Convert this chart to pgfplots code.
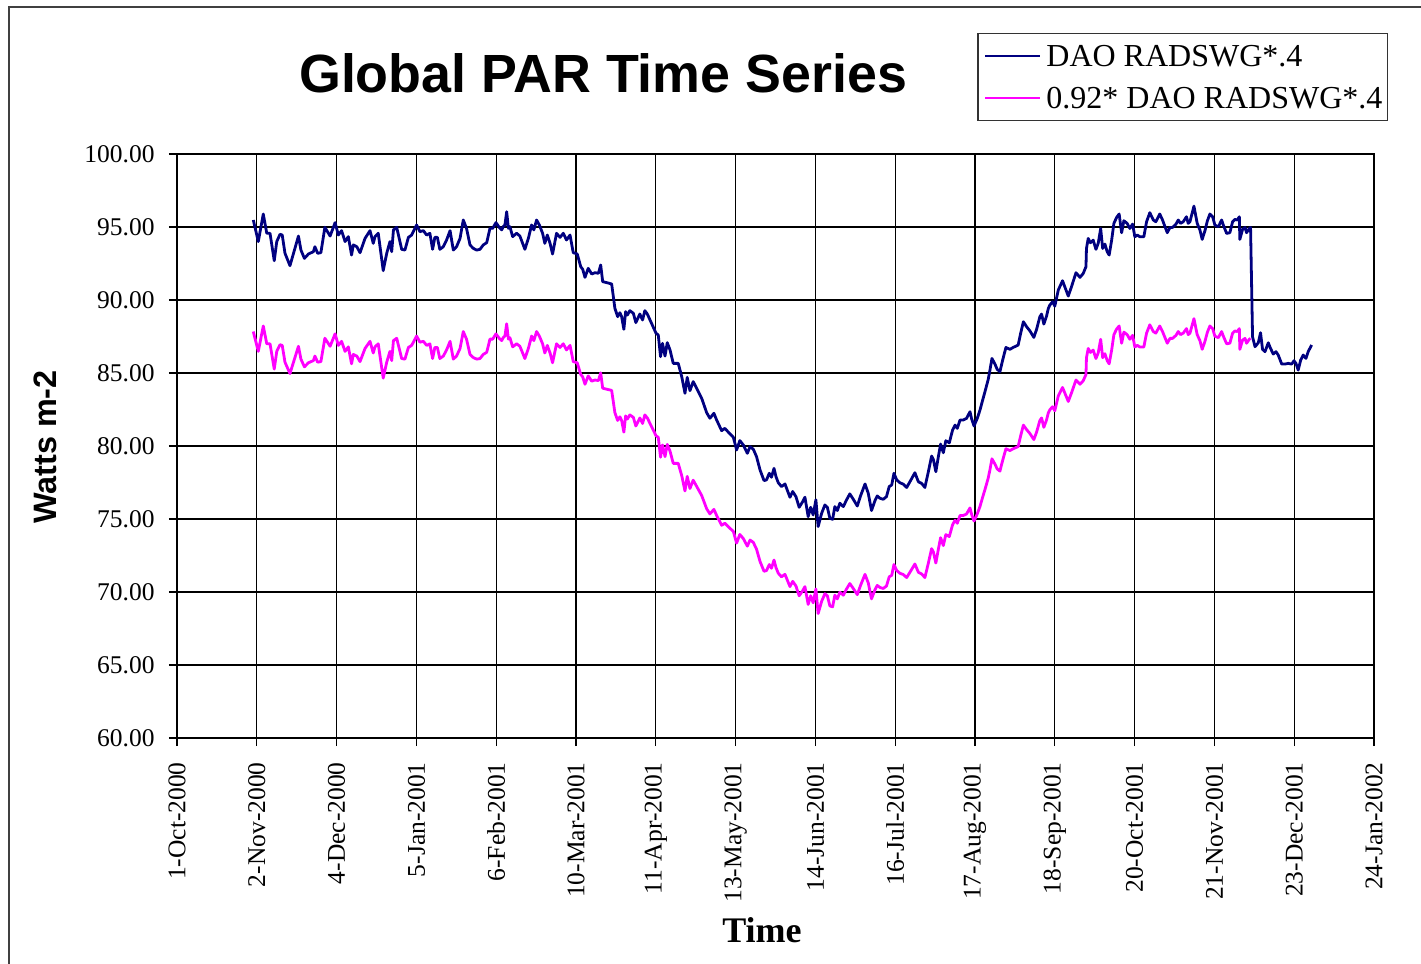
\documentclass[border=0pt]{standalone}
\usepackage{fontspec}
\setmainfont{Liberation Serif}
\newfontfamily\arialfont{Liberation Sans}
\usepackage{pgfplots}
\usepackage{pgfplotstable}
\pgfplotsset{compat=1.18}
\definecolor{daoblue}{RGB}{0,0,128}
\definecolor{daopink}{RGB}{255,0,255}

% day 0 = 1-Oct-2000; b = DAO RADSWG*.4 ; p = 0.92* DAO RADSWG*.4
\pgfplotstableread{
d b p
30.6 95.48 87.84
32.6 94.00 86.48
34.6 95.89 88.22
36.0 94.57 87.00
37.3 94.57 87.00
39.0 92.69 85.27
40.0 94.00 86.48
41.3 94.50 86.94
42.2 94.45 86.89
43.3 93.20 85.74
45.3 92.35 84.96
47.1 93.42 85.95
48.7 94.38 86.83
49.7 93.42 85.95
51.1 92.85 85.42
52.7 93.15 85.70
54.7 93.31 85.85
55.3 93.65 86.16
56.4 93.20 85.74
57.7 93.24 85.78
59.3 94.98 87.38
61.4 94.38 86.83
63.4 95.30 87.68
64.7 94.45 86.89
66.0 94.75 87.17
67.4 94.00 86.48
68.7 94.34 86.79
70.0 93.08 85.63
70.7 93.77 86.27
72.1 93.65 86.16
73.4 93.24 85.78
75.4 94.22 86.68
77.4 94.75 87.17
78.7 93.88 86.37
79.4 94.34 86.79
80.7 94.57 87.00
82.7 92.01 84.65
84.1 93.20 85.74
85.4 94.00 86.48
86.1 93.31 85.85
86.8 94.80 87.22
88.1 94.98 87.38
90.1 93.47 85.99
91.4 93.42 85.95
92.8 94.29 86.75
94.1 94.45 86.89
96.1 95.14 87.53
97.4 94.68 87.11
98.8 94.75 87.17
100.1 94.45 86.89
101.4 94.57 87.00
102.5 93.47 85.99
103.4 94.29 86.75
104.4 94.29 86.75
105.4 93.47 85.99
106.8 93.65 86.16
108.1 94.11 86.58
109.5 94.75 87.17
110.8 93.42 85.95
112.1 93.65 86.16
113.5 94.22 86.68
114.8 95.48 87.84
116.1 94.91 87.32
117.5 93.77 86.27
118.8 93.54 86.06
120.2 93.42 85.95
121.5 93.47 85.99
122.8 93.77 86.27
124.2 93.93 86.42
125.5 94.91 87.32
126.6 94.91 87.32
127.9 95.30 87.68
129.2 94.98 87.38
130.2 94.80 87.22
130.8 95.02 87.42
131.5 95.14 87.53
132.2 96.05 88.37
132.9 94.91 87.32
133.5 95.02 87.42
134.6 94.34 86.79
136.2 94.57 87.00
137.5 94.38 86.83
139.5 93.47 85.99
140.9 94.22 86.68
142.2 95.14 87.53
143.1 94.80 87.22
144.2 95.48 87.84
145.3 95.14 87.53
146.6 94.57 87.00
147.5 93.88 86.37
148.5 94.45 86.89
149.6 93.88 86.37
150.6 93.15 85.70
152.2 94.57 87.00
153.6 94.29 86.75
154.9 94.57 87.00
156.2 94.11 86.58
157.6 94.45 86.89
158.9 93.24 85.78
160.5 93.15 85.70
161.9 92.28 84.90
162.7 92.10 84.73
163.6 91.55 84.23
164.9 92.17 84.80
166.3 91.78 84.44
167.6 91.87 84.52
169.0 91.83 84.48
169.9 92.40 85.01
170.7 91.26 83.96
172.3 91.19 83.89
174.3 91.10 83.81
175.6 89.43 82.28
176.7 88.86 81.75
177.6 89.13 82.00
178.3 88.86 81.75
179.2 87.99 80.95
179.9 89.20 82.06
180.6 88.97 81.85
181.6 89.27 82.13
183.0 89.09 81.96
184.0 88.45 81.37
185.6 89.04 81.92
186.7 88.63 81.54
187.6 89.27 82.13
188.6 89.04 81.92
190.3 88.40 81.33
192.1 87.72 80.70
193.0 87.60 80.59
193.9 86.12 79.23
194.7 87.03 80.07
195.7 86.16 79.27
196.6 87.08 80.11
197.7 86.58 79.65
199.0 85.66 78.81
201.0 85.66 78.81
202.4 84.75 77.97
203.7 83.61 76.92
204.6 84.70 77.92
205.7 83.79 77.09
207.0 84.41 77.66
208.4 83.95 77.23
210.4 83.27 76.61
212.4 82.28 75.70
213.7 81.90 75.35
215.3 82.24 75.66
216.4 81.78 75.24
218.4 81.05 74.57
219.7 81.21 74.71
221.5 80.87 74.40
223.1 80.60 74.15
224.4 79.73 73.35
225.7 80.37 73.94
227.1 80.07 73.66
228.7 79.50 73.14
229.8 79.96 73.56
231.1 79.78 73.40
232.4 79.27 72.93
233.8 78.36 72.09
235.4 77.63 71.42
236.4 77.68 71.47
237.5 78.13 71.88
238.4 77.86 71.63
239.4 78.47 72.19
240.2 77.90 71.67
241.1 77.49 71.29
242.4 77.22 71.04
243.8 77.40 71.21
244.7 76.99 70.83
245.8 76.49 70.37
246.9 76.88 70.73
248.2 76.53 70.41
249.5 75.80 69.74
250.9 76.19 70.09
251.8 76.49 70.37
253.1 75.16 69.15
254.1 75.80 69.74
255.1 75.28 69.26
256.2 76.31 70.21
257.1 74.48 68.52
258.5 75.39 69.36
259.8 75.96 69.88
260.8 75.80 69.74
261.8 75.05 69.05
262.9 74.98 68.98
263.8 75.85 69.78
264.8 75.58 69.53
265.8 76.08 69.99
267.2 75.85 69.78
268.5 76.31 70.21
269.8 76.72 70.58
271.2 76.35 70.24
272.8 75.89 69.82
274.1 76.58 70.45
275.9 77.40 71.21
277.2 76.76 70.62
278.5 75.58 69.53
279.9 76.26 70.16
280.8 76.58 70.45
281.9 76.42 70.31
283.2 76.35 70.24
284.5 76.53 70.41
285.6 77.22 71.04
286.6 77.33 71.14
287.5 78.13 71.88
288.6 77.68 71.47
289.9 77.48 71.28
291.2 77.39 71.20
292.6 77.16 70.99
293.9 77.55 71.35
295.9 78.17 71.92
297.3 77.55 71.35
298.6 77.44 71.24
299.9 77.16 70.99
301.3 78.24 71.98
302.6 79.31 72.97
303.3 79.08 72.75
304.3 78.24 71.98
305.3 79.26 72.92
306.2 80.13 73.72
307.3 79.54 73.18
308.3 80.36 73.93
309.7 80.22 73.80
311.0 81.09 74.60
312.0 81.43 74.92
312.9 81.21 74.71
314.0 81.78 75.24
315.3 81.78 75.24
316.6 81.89 75.34
318.0 82.35 75.76
318.6 81.89 75.34
319.6 81.37 74.86
320.9 81.89 75.34
322.0 82.46 75.86
323.0 83.10 76.45
324.0 83.72 77.02
325.3 84.56 77.80
326.0 85.20 78.38
326.8 86.00 79.12
328.0 85.61 78.76
328.9 85.25 78.43
330.0 85.09 78.28
331.1 85.89 79.02
332.4 86.75 79.81
334.0 86.62 79.69
335.3 86.75 79.81
337.3 86.91 79.96
338.3 87.71 80.69
339.4 88.51 81.43
340.7 88.17 81.12
342.0 87.89 80.86
343.6 87.44 80.44
344.7 87.99 80.95
346.0 88.85 81.74
346.7 89.04 81.92
347.6 88.35 81.28
348.7 88.90 81.79
349.4 89.42 82.27
350.0 89.65 82.48
351.1 89.88 82.69
352.0 89.58 82.41
353.4 90.68 83.43
355.1 91.32 84.01
356.5 90.68 83.43
357.4 90.27 83.05
358.7 90.91 83.64
360.5 91.87 84.52
362.1 91.55 84.23
363.4 91.82 84.47
364.5 92.28 84.90
364.7 93.53 86.05
365.4 94.22 86.68
366.3 93.92 86.41
367.4 94.10 86.57
368.5 93.47 85.99
369.4 93.88 86.37
370.4 94.90 87.31
371.2 93.53 86.05
372.1 93.83 86.32
373.0 93.31 85.85
373.8 93.08 85.63
374.8 94.10 86.57
375.7 95.25 87.63
376.8 95.66 88.01
377.8 95.89 88.22
378.8 94.61 87.04
379.7 95.43 87.80
381.0 95.25 87.63
382.1 94.90 87.31
383.2 95.20 87.58
384.1 94.33 86.78
385.1 94.45 86.89
386.1 94.33 86.78
387.7 94.33 86.78
388.8 95.36 87.73
390.1 95.98 88.30
391.5 95.48 87.84
392.5 95.36 87.73
394.1 95.89 88.22
395.2 95.48 87.84
396.1 95.06 87.46
397.1 94.61 87.04
398.2 94.97 87.37
399.2 94.97 87.37
400.6 95.20 87.58
401.5 95.48 87.84
402.4 95.25 87.63
403.5 95.36 87.73
404.8 95.70 88.04
405.5 95.25 87.63
406.2 95.36 87.73
407.8 96.43 88.72
409.1 95.25 87.63
410.2 94.79 87.21
411.1 94.15 86.62
412.2 94.74 87.16
413.2 95.43 87.80
414.2 95.89 88.22
415.3 95.70 88.04
416.2 95.13 87.52
417.6 95.02 87.42
418.9 95.48 87.84
419.6 95.13 87.52
420.9 94.56 87.00
422.2 94.61 87.04
423.3 95.36 87.73
424.2 95.52 87.88
425.2 95.48 87.84
426.0 95.70 88.04
426.2 94.15 86.62
427.3 94.84 87.25
428.3 94.97 87.37
428.9 94.61 87.04
430.0 94.90 87.31
430.5 94.97 87.37
431.3 87.48 nan
432.3 86.80 nan
433.6 87.07 nan
434.5 87.76 nan
435.3 86.62 nan
436.3 86.46 nan
437.6 87.07 nan
438.5 86.69 nan
439.6 86.30 nan
440.7 86.46 nan
441.6 86.23 nan
443.0 85.61 nan
444.3 85.61 nan
445.6 85.66 nan
447.0 85.61 nan
447.9 85.84 nan
448.7 85.66 nan
449.6 85.20 nan
450.6 85.89 nan
451.6 86.23 nan
452.7 86.00 nan
453.6 86.46 nan
455.0 86.92 nan
}\partable

\begin{document}
\begin{tikzpicture}
% picture frame: 1421 x 964 px at 0.5pt per px; axis box 177..1374 x 154..738 px
\useasboundingbox (-88.5pt,-113pt) rectangle (622pt,369pt);
\draw[line width=1pt, black!75] (-84pt,-113pt) -- (-84pt,365.5pt) -- (622pt,365.5pt);
\begin{axis}[
  at={(0pt,0pt)}, anchor=south west,
  scale only axis,
  width=598.5pt, height=292pt,
  xmin=0, xmax=480, ymin=60, ymax=100,
  xtick={0,32,...,480},
  xticklabels={1-Oct-2000,2-Nov-2000,4-Dec-2000,5-Jan-2001,6-Feb-2001,10-Mar-2001,11-Apr-2001,13-May-2001,14-Jun-2001,16-Jul-2001,17-Aug-2001,18-Sep-2001,20-Oct-2001,21-Nov-2001,23-Dec-2001,24-Jan-2002},
  ytick={60,65,...,100},
  yticklabel style={/pgf/number format/fixed, /pgf/number format/fixed zerofill, /pgf/number format/precision=2, /pgf/number format/assume math mode=true,
    font=\fontsize{12.75}{15}\selectfont, inner sep=0pt, anchor=east, xshift=-7pt},
  xticklabel style={font=\fontsize{12.75}{15}\selectfont, inner sep=0pt, rotate=90, anchor=east, xshift=-8pt},
  tick pos=left,
  tick align=outside,
  major tick length=4pt,
  tick style={black, line width=0.6pt},
  grid=major,
  grid style={black, line width=0.6pt},
  axis line style={black, line width=0.6pt},
  title={Global PAR Time Series},
  title style={at={(axis description cs:0.356,1.0856)}, anchor=base, font=\arialfont\bfseries\fontsize{26.9}{30}\selectfont},
  xlabel={Time},
  xlabel style={at={(axis description cs:0.4887,-0.351)}, anchor=base, font=\bfseries\fontsize{18}{21}\selectfont},
  ylabel={Watts m-2},
  ylabel style={at={(axis description cs:-0.1103,0.4983)}, anchor=center, font=\arialfont\bfseries\fontsize{16.2}{19}\selectfont},
  legend cell align=left,
  legend image code/.code={\path (-0.5pt,0pt); \draw[#1, line width=1pt] (0pt,0pt) -- (27.5pt,0pt);},
  legend style={at={(axis description cs:1.0117,1.2072)}, anchor=north east,
    draw=black!80, line width=0.6pt, fill=white,
    font=\fontsize{16}{19}\selectfont,
    inner xsep=2.5pt, inner ysep=6pt, row sep=10.4pt, column sep=2.5pt,
    nodes={inner sep=0pt, text height=10.6pt, text depth=0pt}},
]
\addplot[daoblue, line width=1.4pt, line join=round] table[x=d, y=b] {\partable};
\addlegendentry{DAO RADSWG*.4}
\addplot[daopink, line width=1.4pt, line join=round] table[x=d, y=p] {\partable};
\addlegendentry{0.92* DAO RADSWG*.4}
\end{axis}
\end{tikzpicture}
\end{document}
